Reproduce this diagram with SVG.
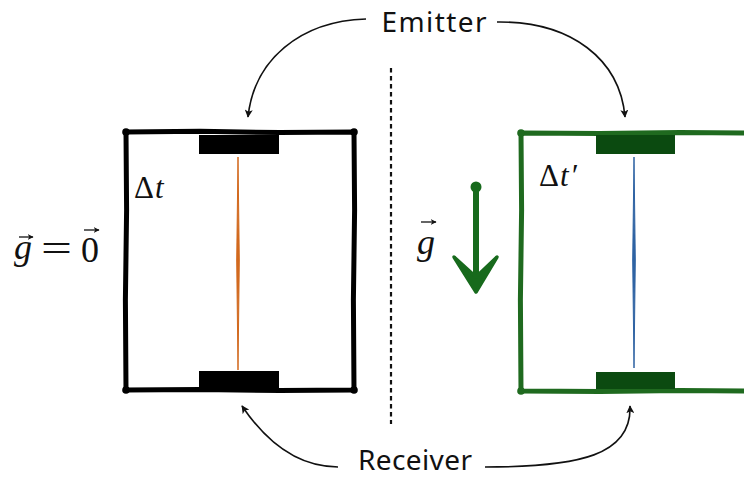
<svg xmlns="http://www.w3.org/2000/svg" width="744" height="478" viewBox="0 0 744 478">
<defs>
<marker id="ah" viewBox="0 0 10 10" refX="9" refY="5" markerWidth="8" markerHeight="8" markerUnits="userSpaceOnUse" orient="auto">
<path d="M0 0 L10 5 L0 10 L2.5 5 Z" fill="#111"/>
</marker>
<marker id="vh" viewBox="0 0 10 10" refX="9" refY="5" markerWidth="6" markerHeight="6" markerUnits="userSpaceOnUse" orient="auto">
<path d="M0 0 L10 5 L0 10 L3 5 Z" fill="#111"/>
</marker>
</defs>
<style>
.lbl{font-family:"Noto Sans",sans-serif;font-size:28px;fill:#111}
.math{font-family:"Liberation Serif","DejaVu Serif",serif;fill:#111}
.it{font-style:italic}
.conn{fill:none;stroke:#111;stroke-width:1.6}
.vec{fill:none;stroke:#111;stroke-width:1.3}
.frameB{fill:none;stroke:#000;stroke-width:5;stroke-linejoin:round;stroke-linecap:round}
.frameG{fill:none;stroke:#1f6a1f;stroke-width:5;stroke-linejoin:round;stroke-linecap:round}
</style>
<rect width="744" height="478" fill="#fff"/>

<g id="divider">
<line x1="391" y1="68" x2="391" y2="424" stroke="#111" stroke-width="2.2" stroke-dasharray="4.5 3.5"/>
</g>

<g id="box-left">
<path class="frameB" d="M126 132 L200 131.3 L280 132.6 L354 132 L354.6 210 L353.4 300 L354 390 L280 390.6 L200 389.4 L126 390 L125.4 300 L126.6 210 Z"/>
<circle cx="126" cy="132" r="3.8"/><circle cx="354" cy="132" r="3.8"/>
<circle cx="126" cy="390" r="3.8"/><circle cx="354" cy="390" r="3.8"/>
<rect x="199" y="135" width="80" height="19" fill="#000"/>
<rect x="199" y="371" width="80" height="18" fill="#000"/>
<path d="M238 157 L239.3 260 L238 370 L236.7 260 Z" fill="#d2691e" stroke="#d2691e" stroke-width="1"/>
<text class="math" x="134" y="198" font-size="31">Δ<tspan class="it" x="155">t</tspan></text>
</g>

<g id="label-left">
<text class="math" font-size="36"><tspan class="it" x="14" y="259">g</tspan></text>
<text class="math" x="41" y="261" font-size="38" textLength="31" lengthAdjust="spacingAndGlyphs">=</text>
<text class="math" x="81" y="262" font-size="36">0</text>
<path class="vec" d="M19 237 L33 237" marker-end="url(#vh)"/>
<path class="vec" d="M84 230 L99 230" marker-end="url(#vh)"/>
</g>

<g id="box-right">
<path class="frameG" d="M750 133 L680 132.4 L600 133.6 L521 133 L521.6 210 L520.4 300 L521 391 L600 391.6 L680 390.4 L750 391"/>
<circle cx="521" cy="133" r="3.8" fill="#1f6a1f"/><circle cx="521" cy="391" r="3.8" fill="#1f6a1f"/>
<rect x="596" y="135" width="79" height="19" fill="#0b4a10"/>
<rect x="596" y="372" width="79" height="17" fill="#0b4a10"/>
<path d="M634 157 L635.3 260 L634 368 L632.7 260 Z" fill="#2f63a3" stroke="#2f63a3" stroke-width="1"/>
<text class="math" x="539" y="186" font-size="31">Δ<tspan class="it" x="560">t</tspan><tspan class="it" x="570">′</tspan></text>
</g>

<g id="gravity-right">
<text class="math it" x="417" y="254" font-size="36">g</text>
<path class="vec" d="M421 222 L436 222" marker-end="url(#vh)"/>
<circle cx="476" cy="187" r="5.5" fill="#176a1c"/>
<line x1="476" y1="187" x2="476" y2="280" stroke="#176a1c" stroke-width="6" stroke-linecap="round"/>
<path d="M454 257 L476 292 L497 257 L476 277 Z" fill="#176a1c" stroke="#176a1c" stroke-width="3.5" stroke-linejoin="round"/>
</g>

<g id="emitter">
<text class="lbl" x="434" y="32" text-anchor="middle" textLength="105">Emitter</text>
</g>
<g id="receiver">
<text class="lbl" x="415" y="470" text-anchor="middle" textLength="114">Receiver</text>
</g>

<g id="connectors">
<path class="conn" d="M366 19 C300 21, 254 60, 248 117" marker-end="url(#ah)"/>
<path class="conn" d="M497 22 C572 21, 620 60, 625 117" marker-end="url(#ah)"/>
<path class="conn" d="M338 467 C295 467, 265 440, 242 406" marker-end="url(#ah)"/>
<path class="conn" d="M485 467 C580 467, 632 455, 630 406" marker-end="url(#ah)"/>
</g>
</svg>
